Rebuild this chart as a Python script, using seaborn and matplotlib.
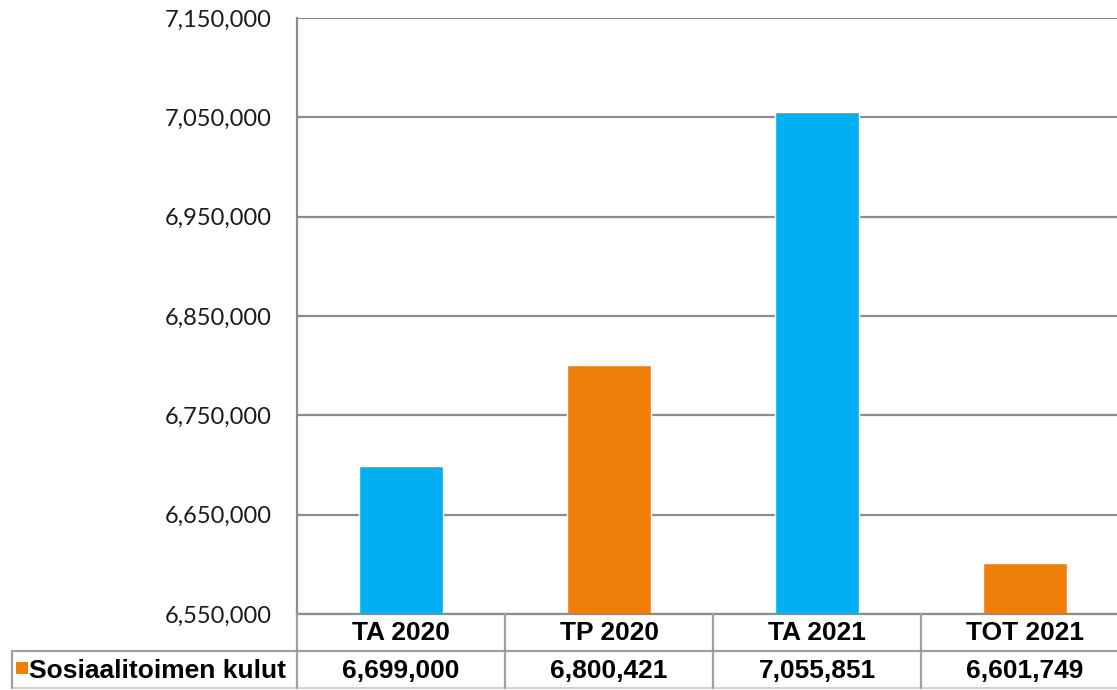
import numpy as np
import pandas as pd
import matplotlib
matplotlib.use('Agg')
import matplotlib.pyplot as plt
import matplotlib.ticker as mticker
import seaborn as sns

categories = ['TA 2020', 'TP 2020', 'TA 2021', 'TOT 2021']
values = [6699000, 6800421, 7055851, 6601749]
series_name = 'Sosiaalitoimen kulut'
bar_colors = ['#00B0F0', '#F07F09', '#00B0F0', '#F07F09']
y_ticks = [6550000, 6650000, 6750000, 6850000, 6950000, 7050000, 7150000]

GRID = '#8C8C8C'

sns.set_theme(style='white')
plt.rcParams['font.family'] = ['Liberation Sans', 'DejaVu Sans']

W, H = 1117, 690
fig = plt.figure(figsize=(W / 100, H / 100), dpi=100)

# plot area in pixels: left 297, top 18, bottom 614, 208 px per category
left, top, bottom = 297, 18, 614
cat_w = 208
right = left + cat_w * len(categories)
ax = fig.add_axes([left / W, (H - bottom) / H, (right - left) / W, (bottom - top) / H])

df = pd.DataFrame({'cat': categories, 'val': values})
sns.barplot(data=df, x='cat', y='val', hue='cat', palette=bar_colors,
            width=0.405, saturation=1, legend=False, ax=ax)

ax.set_xlim(-0.5, len(categories) - 0.5)
ax.set_ylim(y_ticks[0], y_ticks[-1])
ax.set_yticks(y_ticks)
ax.yaxis.set_major_formatter(mticker.StrMethodFormatter('{x:,.0f}'))
for lab in ax.get_yticklabels():
    lab.set_fontfamily(['Lato', 'DejaVu Sans'])
    lab.set_fontsize(17)
    lab.set_color('#1a1a1a')
ax.tick_params(axis='y', length=0, pad=18)
ax.set_xticks([])
ax.set_xlabel('')
ax.set_ylabel('')
ax.grid(True, axis='y', color=GRID, lw=1.6)
ax.set_axisbelow(True)
for s in ['top', 'right']:
    ax.spines[s].set_visible(False)
for s in ['left', 'bottom']:
    ax.spines[s].set_color(GRID)
    ax.spines[s].set_linewidth(1.6)

# ── data table under the chart ──────────────────────────────────────
ov = fig.add_axes([0, 0, 1, 1], facecolor='none')
ov.set_xlim(0, W)
ov.set_ylim(H, 0)
ov.axis('off')

row1, row2, row3 = bottom, bottom + 37, bottom + 74
head_left = 12
lc = '#A0A0A0'
ov.plot([head_left, right], [row2, row2], color=lc, lw=1.6)
ov.plot([head_left, right], [row3, row3], color='#C8C8C8', lw=1.2)
ov.plot([head_left, head_left], [row2, row3], color=lc, lw=1.6)
for i in range(len(categories)):
    xb = left + i * cat_w
    ov.plot([xb, xb], [row1, row3], color=lc, lw=1.6)

for i, (c, v) in enumerate(zip(categories, values)):
    xc = left + (i + 0.5) * cat_w
    ov.text(xc, (row1 + row2) / 2 + 1, c, ha='center', va='center',
            fontsize=19, fontweight='bold', color='black')
    ov.text(xc, (row2 + row3) / 2 + 1, f'{v:,.0f}', ha='center', va='center',
            fontsize=19, fontweight='bold', color='black')

ov.add_patch(plt.Rectangle((head_left + 4, row2 + 11), 12, 12,
                           color=bar_colors[1], lw=0))
ov.text(head_left + 17, (row2 + row3) / 2 + 1, series_name, ha='left',
        va='center', fontsize=19, fontweight='bold', color='black')

fig.savefig('out.png', dpi=100)
